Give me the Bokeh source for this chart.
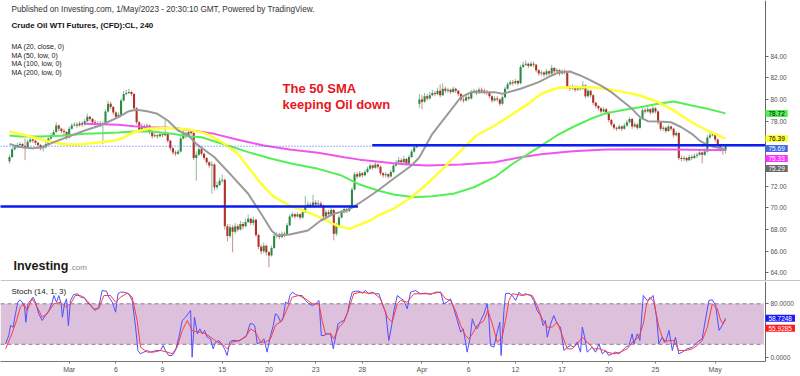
from bokeh.plotting import figure
from bokeh.models import Range1d, FixedTicker, Label, Span, BoxAnnotation, PrintfTickFormatter, LinearAxis
from bokeh.layouts import column
from bokeh.embed import file_html
from bokeh.resources import INLINE

FONT = "Liberation Sans"

# ---------------- data (4h bars, index 0 = first visible bar) ----------------
opens = [
    74.3, 74.7, 75.4, 75.6, 75.8, 75.9, 75.7, 75.6, 76.1, 76.3,
    76.2, 76.0, 75.8, 75.5, 75.6, 75.9, 76.4, 76.7, 77.0, 77.6,
    77.3, 77.1, 77.0, 76.5, 77.3, 77.6, 77.7, 77.6, 77.8, 77.7,
    78.0, 78.4, 78.2, 77.9, 77.8, 77.8, 77.7, 77.8, 78.9, 79.6,
    79.3, 78.8, 78.4, 78.6, 79.9, 80.5, 80.6, 80.7, 80.5, 79.2,
    77.9, 77.2, 77.5, 77.4, 77.6, 77.0, 76.6, 76.7, 76.6, 76.8,
    76.7, 76.9, 76.2, 75.5, 75.1, 75.0, 75.2, 76.4, 76.9, 76.6,
    77.0, 76.9, 74.6, 74.9, 75.4, 75.0, 74.6, 74.2, 73.9, 74.0,
    71.9, 72.1, 72.5, 72.6, 68.3, 67.4, 68.2, 67.8, 68.3, 68.0,
    68.5, 68.3, 68.7, 69.0, 68.6, 68.9, 67.5, 66.4, 66.0, 66.5,
    65.9, 65.6, 66.3, 67.4, 67.5, 67.3, 67.6, 67.5, 68.4, 69.2,
    69.4, 69.2, 69.4, 69.1, 69.6, 70.1, 70.3, 70.2, 70.5, 70.3,
    70.4, 70.2, 69.2, 69.6, 69.4, 69.8, 67.6, 68.4, 69.1, 69.6,
    69.9, 69.7, 70.0, 71.7, 73.1, 72.9, 73.2, 73.0, 73.3, 73.6,
    73.9, 73.7, 74.0, 73.8, 73.2, 73.0, 73.1, 72.9, 73.3, 73.9,
    74.2, 74.4, 74.2, 74.5, 74.1, 74.7, 75.2, 75.6, 79.6, 80.0,
    79.8, 80.3, 80.1, 80.4, 80.6, 80.5, 80.8, 80.4, 81.0, 80.8,
    80.9, 80.7, 81.0, 80.8, 80.5, 80.0, 79.9, 80.2, 80.1, 80.7,
    80.8, 80.6, 80.9, 80.8, 80.7, 80.6, 80.3, 79.9, 80.1, 80.0,
    79.6, 80.2, 81.0, 81.4, 81.6, 81.5, 81.7, 81.5, 83.0, 83.2,
    83.3, 83.1, 83.3, 83.2, 82.7, 82.4, 82.5, 82.3, 82.6, 82.4,
    82.9, 82.6, 82.7, 82.4, 82.6, 82.5, 81.2, 81.0, 81.2, 80.9,
    81.1, 81.0, 81.3, 80.3, 80.8, 80.4, 79.7, 79.4, 79.2, 78.9,
    79.1, 78.8, 78.1, 77.7, 77.4, 77.3, 77.5, 77.3, 77.6, 77.9,
    78.2, 77.5, 77.7, 77.4, 78.2, 79.0, 78.9, 79.1, 78.8, 79.2,
    78.9, 77.9, 77.3, 77.4, 77.1, 77.5, 77.3, 76.7, 76.9, 74.6,
    74.5, 74.6, 74.4, 74.7, 74.6, 74.8, 74.9, 75.1, 74.9, 75.2,
    76.5, 76.7, 76.8, 76.3, 75.8, 75.4, 75.3,
]
highs = [
    74.9, 75.6, 75.8, 76.0, 76.1, 76.0, 76.4, 76.3, 76.6, 76.5,
    76.3, 76.1, 75.9, 75.8, 76.1, 76.5, 76.9, 77.2, 77.9, 77.7,
    77.4, 77.3, 77.1, 77.5, 77.8, 77.9, 77.9, 78.0, 78.0, 78.2,
    78.7, 78.5, 78.3, 78.1, 78.0, 78.0, 78.0, 79.1, 79.9, 79.8,
    79.4, 78.9, 78.8, 80.1, 80.8, 80.9, 81.0, 80.8, 80.6, 79.3,
    78.0, 77.8, 77.7, 77.8, 77.7, 77.1, 76.9, 76.8, 77.0, 77.0,
    78.1, 77.0, 76.3, 75.6, 75.3, 75.4, 76.6, 77.2, 77.0, 77.3,
    77.2, 77.0, 75.2, 75.6, 75.5, 75.1, 74.7, 74.3, 74.3, 74.1,
    72.4, 72.8, 73.1, 72.7, 68.5, 68.5, 68.4, 68.6, 68.5, 68.8,
    68.7, 69.0, 69.4, 69.1, 69.2, 69.0, 67.6, 66.6, 66.8, 66.6,
    66.0, 66.5, 67.6, 67.8, 67.7, 67.8, 67.8, 68.6, 69.4, 69.6,
    69.5, 69.6, 69.5, 69.8, 71.1, 70.6, 70.5, 71.2, 70.7, 70.7,
    70.6, 70.3, 69.8, 69.8, 70.0, 69.9, 68.6, 69.3, 69.8, 70.1,
    70.0, 70.3, 71.9, 73.3, 73.3, 73.4, 73.3, 73.5, 73.8, 74.1,
    74.0, 74.3, 74.1, 73.9, 73.3, 73.3, 73.2, 73.5, 74.1, 74.4,
    74.7, 74.6, 74.8, 74.6, 74.9, 75.4, 75.8, 75.9, 80.5, 80.4,
    80.6, 80.5, 80.7, 80.9, 80.8, 81.1, 81.4, 81.5, 81.2, 81.1,
    81.0, 81.2, 81.1, 80.9, 80.6, 80.2, 80.4, 80.4, 80.9, 81.0,
    80.9, 81.1, 81.1, 81.0, 80.9, 80.7, 80.4, 80.3, 80.3, 80.1,
    80.4, 81.2, 81.6, 81.8, 81.8, 81.9, 81.8, 83.2, 83.5, 83.6,
    83.4, 83.5, 83.5, 83.3, 82.8, 82.7, 82.6, 82.8, 82.7, 83.2,
    83.0, 82.9, 82.8, 82.8, 82.8, 82.6, 81.3, 81.4, 81.3, 81.3,
    81.2, 81.7, 81.4, 81.0, 80.9, 80.5, 79.8, 79.5, 79.3, 79.3,
    79.2, 78.9, 78.2, 77.8, 77.5, 77.7, 77.6, 77.8, 78.1, 78.4,
    78.3, 77.9, 77.8, 78.4, 79.2, 79.2, 79.3, 79.2, 79.4, 79.3,
    79.0, 78.0, 77.6, 77.5, 77.7, 77.6, 77.4, 77.1, 77.0, 74.8,
    74.8, 74.7, 74.9, 74.9, 75.0, 75.1, 75.4, 75.2, 75.5, 76.7,
    76.9, 77.0, 76.9, 76.4, 75.9, 75.6, 75.9,
]
lows = [
    74.1, 74.6, 75.3, 75.5, 75.7, 75.5, 74.4, 75.5, 76.0, 76.0,
    75.8, 75.6, 75.3, 75.2, 75.5, 75.8, 76.3, 76.6, 76.9, 77.1,
    76.9, 76.7, 76.3, 76.4, 77.2, 77.5, 77.4, 77.5, 77.5, 77.6,
    77.9, 78.0, 77.7, 77.6, 77.6, 77.5, 75.9, 77.7, 78.8, 79.1,
    78.6, 78.2, 78.3, 78.5, 79.8, 80.4, 80.5, 80.3, 79.0, 77.7,
    77.0, 77.1, 77.2, 77.3, 76.8, 76.4, 76.5, 76.4, 76.5, 76.5,
    76.6, 76.0, 75.3, 74.9, 74.8, 74.9, 75.1, 76.3, 76.4, 76.5,
    76.7, 74.4, 72.5, 74.8, 74.8, 74.4, 74.0, 73.7, 71.3, 71.6,
    71.7, 72.0, 72.3, 68.0, 66.9, 67.2, 65.9, 67.6, 67.8, 67.9,
    68.0, 68.2, 68.6, 68.4, 68.4, 67.3, 66.2, 65.7, 65.8, 65.6,
    64.5, 65.5, 66.2, 67.2, 67.1, 67.2, 67.3, 67.4, 68.3, 69.1,
    69.0, 69.1, 68.9, 69.0, 69.5, 70.0, 70.0, 70.1, 70.1, 70.2,
    70.0, 69.0, 69.1, 69.2, 69.3, 67.0, 67.4, 68.3, 69.0, 69.5,
    69.5, 69.6, 69.9, 71.6, 72.7, 72.8, 72.8, 72.9, 73.2, 73.5,
    73.5, 73.6, 73.6, 73.0, 72.8, 72.8, 72.7, 72.8, 73.2, 73.8,
    74.1, 74.0, 74.1, 73.9, 74.0, 74.6, 75.1, 75.5, 79.2, 79.1,
    79.7, 79.9, 80.0, 80.3, 80.3, 80.4, 80.2, 80.3, 80.6, 80.6,
    80.5, 80.6, 80.6, 80.3, 79.8, 79.7, 79.8, 79.9, 80.0, 80.6,
    80.4, 80.5, 80.6, 80.5, 80.4, 80.1, 79.7, 79.8, 79.8, 79.4,
    79.5, 80.1, 80.9, 81.3, 81.3, 81.4, 81.3, 81.4, 82.9, 83.1,
    82.9, 83.0, 83.0, 82.5, 82.2, 82.2, 82.1, 82.2, 82.2, 82.3,
    82.4, 82.5, 82.2, 82.3, 82.3, 81.0, 80.8, 80.9, 80.7, 80.8,
    80.8, 80.9, 80.1, 80.2, 80.2, 79.5, 79.2, 79.0, 78.7, 78.8,
    78.6, 77.9, 77.5, 77.2, 77.1, 77.2, 77.1, 77.2, 77.5, 77.8,
    77.3, 77.4, 77.2, 77.3, 78.1, 78.7, 78.8, 78.6, 78.7, 78.7,
    77.7, 77.1, 77.1, 76.9, 77.0, 77.1, 76.5, 76.6, 74.4, 74.3,
    74.3, 74.2, 74.3, 74.4, 74.5, 74.6, 74.8, 74.1, 74.8, 75.1,
    76.4, 76.6, 76.1, 75.6, 75.2, 74.9, 75.0,
]
closes = [
    74.7, 75.4, 75.6, 75.8, 75.9, 75.7, 75.6, 76.1, 76.3, 76.2,
    76.0, 75.8, 75.5, 75.6, 75.9, 76.4, 76.7, 77.0, 77.6, 77.3,
    77.1, 77.0, 76.5, 77.3, 77.6, 77.7, 77.6, 77.8, 77.7, 78.0,
    78.4, 78.2, 77.9, 77.8, 77.8, 77.7, 77.8, 78.9, 79.6, 79.3,
    78.8, 78.4, 78.6, 79.9, 80.5, 80.6, 80.7, 80.5, 79.2, 77.9,
    77.2, 77.5, 77.4, 77.6, 77.0, 76.6, 76.7, 76.6, 76.8, 76.7,
    76.9, 76.2, 75.5, 75.1, 75.0, 75.2, 76.4, 76.9, 76.6, 77.0,
    76.9, 74.6, 74.9, 75.4, 75.0, 74.6, 74.2, 73.9, 74.0, 71.9,
    72.1, 72.5, 72.6, 68.3, 67.4, 68.2, 67.8, 68.3, 68.0, 68.5,
    68.3, 68.7, 69.0, 68.6, 68.9, 67.5, 66.4, 66.0, 66.5, 65.9,
    65.6, 66.3, 67.4, 67.5, 67.3, 67.6, 67.5, 68.4, 69.2, 69.4,
    69.2, 69.4, 69.1, 69.6, 70.1, 70.3, 70.2, 70.5, 70.3, 70.4,
    70.2, 69.2, 69.6, 69.4, 69.8, 67.6, 68.4, 69.1, 69.6, 69.9,
    69.7, 70.0, 71.7, 73.1, 72.9, 73.2, 73.0, 73.3, 73.6, 73.9,
    73.7, 74.0, 73.8, 73.2, 73.0, 73.1, 72.9, 73.3, 73.9, 74.2,
    74.4, 74.2, 74.5, 74.1, 74.7, 75.2, 75.6, 75.7, 80.0, 79.8,
    80.3, 80.1, 80.4, 80.6, 80.5, 80.8, 80.4, 81.0, 80.8, 80.9,
    80.7, 81.0, 80.8, 80.5, 80.0, 79.9, 80.2, 80.1, 80.7, 80.8,
    80.6, 80.9, 80.8, 80.7, 80.6, 80.3, 79.9, 80.1, 80.0, 79.6,
    80.2, 81.0, 81.4, 81.6, 81.5, 81.7, 81.5, 83.0, 83.2, 83.3,
    83.1, 83.3, 83.2, 82.7, 82.4, 82.5, 82.3, 82.6, 82.4, 82.9,
    82.6, 82.7, 82.4, 82.6, 82.5, 81.2, 81.0, 81.2, 80.9, 81.1,
    81.0, 81.3, 80.3, 80.8, 80.4, 79.7, 79.4, 79.2, 78.9, 79.1,
    78.8, 78.1, 77.7, 77.4, 77.3, 77.5, 77.3, 77.6, 77.9, 78.2,
    77.5, 77.7, 77.4, 78.2, 79.0, 78.9, 79.1, 78.8, 79.2, 78.9,
    77.9, 77.3, 77.4, 77.1, 77.5, 77.3, 76.7, 76.9, 74.6, 74.5,
    74.6, 74.4, 74.7, 74.6, 74.8, 74.9, 75.1, 74.9, 75.2, 76.5,
    76.7, 76.8, 76.3, 75.8, 75.4, 75.3, 75.69,
]

# moving averages (bar index, value)
ma20 = [(0, 75.9), (3, 75.66), (6, 75.54), (9, 75.5), (13, 75.6), (17, 76.06), (22, 76.5), (29, 77.14),
        (35, 77.6), (42, 78.37), (46, 78.92), (49, 79.05), (53, 78.92), (57, 78.68), (61, 78.06), (65, 77.14),
        (69, 76.68), (72, 75.9), (79, 74.67), (85, 73.14), (92, 71.3), (97, 69.45), (101, 67.91), (103, 67.45),
        (108, 67.54), (115, 67.91), (120, 68.83), (125, 69.45), (130, 69.75), (135, 70.45), (142, 71.6),
        (148, 72.68), (155, 73.91), (158, 74.67), (163, 76.83), (169, 78.68), (174, 80.21), (178, 80.68),
        (187, 80.68), (190, 80.53), (197, 80.99), (204, 81.6), (209, 82.22), (212, 82.53), (216, 82.59),
        (220, 82.22), (224, 81.76), (228, 81.29), (232, 80.68), (236, 79.91), (240, 79.14), (243, 78.37),
        (246, 78.0), (250, 77.97), (255, 77.9), (259, 77.44), (263, 76.83), (266, 76.21), (269, 75.82),
        (271, 75.66), (275, 75.45), (276, 75.29)]
ma50 = [(0, 77.05), (4, 76.83), (9, 76.52), (16, 76.06), (22, 75.85), (27, 75.85), (35, 76.06), (39, 76.15),
        (43, 76.37), (48, 76.98), (53, 77.29), (58, 77.35), (63, 77.35), (70, 77.2), (76, 76.83), (82, 76.06),
        (88, 74.99), (93, 73.45), (97, 72.22), (102, 70.98), (108, 70.21), (115, 69.6), (121, 68.99),
        (126, 68.37), (131, 68.06), (135, 68.45), (139, 68.83), (142, 69.29), (148, 69.91), (155, 70.98),
        (161, 72.22), (167, 73.6), (174, 75.29), (180, 76.68), (187, 77.6), (193, 78.52), (200, 79.6),
        (205, 80.53), (209, 80.9), (212, 81.08), (217, 81.14), (224, 81.14), (230, 80.99), (237, 80.68),
        (243, 80.37), (250, 79.76), (256, 78.99), (263, 77.9), (269, 77.14), (276, 76.39)]
ma100 = [(0, 76.68), (4, 76.58), (12, 76.58), (20, 76.65), (29, 76.83), (35, 76.89), (42, 76.95), (48, 77.05),
         (54, 77.08), (61, 76.89), (70, 76.58), (74, 76.52), (82, 75.91), (92, 75.14), (101, 74.53),
         (109, 74.07), (119, 73.6), (128, 72.98), (135, 72.15), (142, 71.6), (148, 71.23), (156, 70.98),
         (163, 71.07), (171, 71.29), (179, 71.9), (187, 72.83), (193, 73.91), (200, 74.99), (205, 75.75),
         (211, 76.68), (217, 77.44), (224, 78.22), (230, 78.74), (237, 79.05), (243, 79.29), (250, 79.6),
         (256, 79.82), (263, 79.45), (269, 79.14), (276, 78.72)]
ma200 = [(29, 77.76), (35, 77.72), (42, 77.66), (48, 77.54), (54, 77.44), (61, 77.39), (66, 77.29), (70, 77.14),
         (79, 76.83), (88, 76.28), (98, 75.75), (108, 75.38), (119, 75.08), (129, 74.67), (135, 74.45),
         (148, 74.12), (155, 73.97), (161, 73.91), (174, 74.0), (187, 74.21), (197, 74.67), (205, 74.95),
         (217, 75.23), (230, 75.38), (243, 75.41), (256, 75.38), (269, 75.35), (276, 75.33)]

# horizontal support / resistance lines
hl_y = [70.12, 75.78]
hl_x0 = [-4.0, 139.8]
hl_x1 = [134.3, 291.4]

# stochastic (14, 1, 3): (bar index, value)
stoch_k = [
    (-1.5, 20.7), (-0.3, 33.0), (0.4, 47.8), (1.4, 45.4), (2.3, 65.1), (3.2, 82.4), (4.0, 85.9), (4.9, 82.4),
    (5.8, 75.0), (6.3, 52.8), (7.1, 80.0), (8.1, 84.9), (9.1, 89.8), (10.0, 82.4), (11.3, 65.1), (12.6, 55.3),
    (13.9, 62.7), (15.2, 70.1), (16.5, 82.4), (17.1, 92.3), (18.1, 82.4), (19.0, 92.3), (19.9, 80.0),
    (20.4, 60.2), (21.2, 80.0), (22.0, 87.4), (22.7, 47.8), (23.5, 84.9), (24.8, 93.8), (26.3, 94.8),
    (27.4, 89.8), (28.7, 89.8), (29.9, 82.4), (31.2, 77.5), (32.9, 70.1), (34.4, 75.0), (35.7, 99.7),
    (37.4, 98.7), (38.3, 89.8), (39.6, 82.4), (40.9, 67.6), (41.8, 94.8), (42.8, 97.2), (44.1, 97.2),
    (46.0, 94.8), (47.3, 84.9), (48.6, 45.4), (49.5, 10.8), (50.5, 5.9), (51.8, 8.4), (53.1, 10.8),
    (54.4, 8.4), (55.6, 9.8), (56.9, 10.8), (58.2, 10.8), (59.2, 18.2), (60.1, 10.8), (61.4, 3.4),
    (62.7, 3.4), (64.0, 10.8), (65.3, 30.6), (66.6, 55.3), (67.9, 60.2), (68.8, 65.1), (69.8, 70.1),
    (70.4, 0.9), (71.3, 60.2), (72.4, 35.5), (73.4, 42.9), (74.3, 35.5), (75.2, 40.5), (76.2, 30.6),
    (77.5, 28.1), (78.5, 13.3), (79.4, 23.2), (80.7, 25.6), (81.6, 20.7), (82.9, 13.3), (83.9, 3.4),
    (84.9, 23.2), (85.8, 25.6), (87.1, 25.6), (88.4, 24.6), (89.7, 28.1), (91.4, 33.0), (92.7, 50.3),
    (93.6, 50.3), (94.5, 47.8), (95.5, 20.7), (96.8, 23.2), (98.1, 28.1), (99.3, 8.4), (100.6, 33.0),
    (101.7, 47.8), (102.5, 65.1), (103.4, 62.7), (104.5, 52.8), (105.5, 60.2), (106.4, 82.4), (107.3, 80.0),
    (108.1, 92.3), (109.0, 97.2), (110.3, 93.8), (111.5, 92.3), (112.8, 92.3), (114.1, 84.9), (115.4, 80.0),
    (116.7, 77.5), (118.0, 80.0), (119.3, 84.9), (120.2, 33.0), (121.2, 33.0), (122.5, 35.5), (123.8, 35.5),
    (124.8, 13.3), (125.7, 30.6), (126.6, 50.3), (127.6, 52.8), (128.9, 55.3), (130.2, 65.1), (131.2, 84.9),
    (132.1, 97.2), (133.4, 98.7), (134.7, 98.7), (136.0, 95.8), (137.2, 99.7), (138.5, 94.8), (139.8, 97.2),
    (141.1, 94.8), (142.4, 94.8), (143.7, 80.0), (145.0, 67.6), (146.2, 25.6), (147.1, 42.9), (148.2, 70.1),
    (149.5, 92.3), (150.7, 88.5), (152.0, 84.9), (153.3, 72.6), (154.6, 97.2), (156.5, 99.7), (158.4, 94.8),
    (160.4, 95.8), (162.3, 93.8), (164.2, 97.2), (166.2, 97.2), (167.4, 80.0), (168.7, 82.4), (170.0, 87.4),
    (171.3, 72.6), (172.6, 55.3), (173.9, 38.0), (174.9, 42.9), (175.8, 23.2), (176.4, 8.4), (177.5, 28.1),
    (178.4, 57.7), (179.3, 47.8), (180.3, 42.9), (181.6, 55.3), (182.9, 65.1), (184.1, 80.0), (184.8, 57.7),
    (185.4, 18.2), (186.7, 15.7), (188.0, 38.0), (189.0, 52.8), (189.5, 3.4), (190.6, 70.1), (191.2, 94.8),
    (192.5, 95.8), (193.8, 92.3), (195.1, 84.9), (196.4, 97.2), (197.6, 92.3), (198.9, 94.8), (200.9, 92.3),
    (202.1, 84.9), (203.4, 70.1), (204.7, 62.7), (205.7, 47.8), (206.6, 55.3), (207.3, 30.6), (208.6, 50.3),
    (209.8, 62.7), (211.1, 50.3), (212.4, 45.4), (213.7, 10.8), (215.0, 15.7), (216.3, 18.2), (217.6, 15.7),
    (218.8, 23.2), (220.1, 8.4), (220.8, 45.4), (221.7, 30.6), (222.7, 8.4), (224.6, 15.7), (225.9, 8.4),
    (227.2, 20.7), (228.5, 5.9), (229.8, 10.8), (231.0, 3.4), (232.3, 5.9), (233.6, 8.4), (234.9, 5.9),
    (236.2, 10.8), (237.5, 15.7), (238.8, 18.2), (240.0, 35.5), (240.7, 20.7), (242.0, 35.5), (243.0, 25.6),
    (244.3, 92.3), (245.8, 84.9), (247.1, 87.4), (248.1, 92.3), (249.4, 60.2), (250.3, 20.7), (251.6, 30.6),
    (252.9, 23.2), (254.2, 40.5), (255.5, 10.8), (256.7, 30.6), (258.0, 5.9), (259.3, 8.4), (261.2, 13.3),
    (263.2, 15.7), (265.1, 23.2), (267.0, 28.1), (268.3, 57.7), (269.6, 84.9), (270.9, 85.9), (272.2, 77.5),
    (273.5, 40.5), (274.7, 47.8), (276.0, 58.7248),
]
stoch_d = [
    (-1.5, 13.3), (0.4, 30.6), (2.3, 50.3), (4.2, 75.0), (5.5, 80.0), (6.8, 70.1), (8.7, 87.4), (10.7, 75.0),
    (12.6, 60.2), (14.5, 65.1), (17.1, 80.0), (19.7, 82.4), (21.6, 75.0), (23.5, 80.0), (25.4, 92.3),
    (27.4, 92.3), (29.9, 84.9), (32.5, 72.6), (34.4, 72.6), (36.4, 92.3), (38.9, 92.3), (40.9, 82.4),
    (42.8, 89.8), (45.4, 95.8), (47.3, 89.8), (49.2, 55.3), (50.5, 15.7), (53.1, 8.4), (55.6, 8.4),
    (58.2, 10.8), (60.8, 8.4), (62.7, 5.9), (64.6, 15.7), (66.6, 40.5), (68.5, 55.3), (70.4, 40.5),
    (72.4, 38.0), (73.6, 38.0), (75.6, 35.5), (77.5, 30.6), (80.1, 23.2), (82.0, 20.7), (83.9, 13.3),
    (85.8, 23.2), (88.4, 25.6), (91.0, 30.6), (92.9, 42.9), (94.8, 38.0), (96.8, 23.2), (98.7, 23.2),
    (100.6, 28.1), (102.5, 47.8), (105.1, 55.3), (107.0, 72.6), (109.0, 89.8), (111.5, 92.3), (114.1, 87.4),
    (116.7, 80.0), (119.3, 80.0), (120.5, 55.3), (121.8, 35.5), (123.8, 35.5), (125.0, 28.1), (127.0, 45.4),
    (128.9, 52.8), (130.8, 72.6), (132.7, 94.8), (135.3, 97.2), (137.9, 95.8), (140.5, 95.8), (143.0, 87.4),
    (145.6, 60.2), (147.5, 52.8), (149.5, 80.0), (150.7, 84.9), (153.3, 82.4), (155.9, 94.8), (158.4, 94.8),
    (162.3, 94.8), (166.2, 97.2), (168.1, 87.4), (170.0, 84.9), (171.9, 70.1), (173.9, 47.8), (175.8, 33.0),
    (177.1, 28.1), (178.4, 35.5), (180.3, 47.8), (182.9, 55.3), (184.4, 70.1), (186.1, 50.3), (188.0, 23.2),
    (189.9, 30.6), (191.2, 55.3), (192.5, 84.9), (193.8, 94.8), (195.7, 93.8), (197.6, 92.3), (199.6, 93.8),
    (201.5, 92.3), (203.4, 77.5), (205.3, 57.7), (207.3, 45.4), (209.2, 45.4), (211.1, 52.8), (213.1, 33.0),
    (215.0, 13.3), (216.9, 13.3), (218.8, 20.7), (220.8, 30.6), (222.7, 23.2), (225.3, 13.3), (227.8, 13.3),
    (230.4, 8.4), (233.0, 5.9), (235.5, 8.4), (238.1, 13.3), (240.7, 25.6), (242.6, 30.6), (244.3, 50.3),
    (245.6, 80.0), (246.9, 89.8), (248.4, 82.4), (250.3, 45.4), (252.3, 23.2), (254.2, 25.6), (256.1, 25.6),
    (258.0, 10.8), (260.6, 10.8), (263.2, 13.3), (265.1, 18.2), (267.0, 25.6), (269.0, 45.4), (270.9, 80.0),
    (272.8, 72.6), (274.1, 56.0), (275.0, 50.5), (276.0, 55.9285),
]

price_ticks = [64, 66, 68, 70, 72, 78, 80, 82, 84]
stoch_ticks = [0, 80]
date_ticks = [23, 41, 59, 82, 100, 118, 136, 159, 177, 195, 213, 231, 249, 272]
date_labels = ["Mar", "6", "9", "15", "20", "23", "28", "Apr", "6", "12", "17", "20", "25", "May"]

# ---------------- styling / layout ----------------
C_UP, C_DN = "#2a8a42", "#b03027"
W_UP, W_DN = "#8fb89c", "#c98f88"
C_MA20, C_MA50, C_MA100, C_MA200 = "#9a9a9a", "#ffff33", "#55ee55", "#f055f0"
C_LINE = "#0b1cf2"
FW = 800          # frame spans the whole width; the price scale sits inside at AXIS_X
PH = 281
SH = 80
X0, AXIS_X, X1 = -3.47, 291.4, 304.9

bars = list(range(len(closes)))
up = [c >= o for o, c in zip(opens, closes)]
body_top = [max(o, c) for o, c in zip(opens, closes)]
body_bot = [min(o, c) for o, c in zip(opens, closes)]
body_col = [C_UP if u else C_DN for u in up]
wick_col = [W_UP if u else W_DN for u in up]

XR = Range1d(X0, X1)
YP = Range1d(63.20, 89.14)
YS = Range1d(-5.48, 113.04)

p = figure(frame_width=FW, frame_height=PH, x_range=XR, y_range=YP,
           output_backend="svg", toolbar_location=None, x_axis_location=None, y_axis_location=None,
           min_border_left=0, min_border_right=0, min_border_top=0, min_border_bottom=0,
           outline_line_color=None, background_fill_color="white", border_fill_color="white")
p.grid.visible = False


def right_axis(ticks, fmt):
    ax = LinearAxis(fixed_location=AXIS_X, ticker=FixedTicker(ticks=ticks),
                    formatter=PrintfTickFormatter(format=fmt))
    ax.major_label_text_font = FONT
    ax.major_label_text_font_size = "6.5px"
    ax.major_label_text_color = "#555555"
    ax.axis_line_color = "#666666"
    ax.major_tick_line_color = "#666666"
    ax.major_tick_out = 3
    ax.major_tick_in = 0
    ax.minor_tick_line_color = None
    ax.major_label_standoff = 2
    return ax


p.add_layout(right_axis(price_ticks, "%.2f"), "right")

# candles
p.segment(x0=bars, y0=lows, x1=bars, y1=highs, line_color=wick_col, line_width=1)
p.vbar(x=bars, width=0.8, top=body_top, bottom=body_bot, fill_color=body_col, line_color=None)

# moving averages
for pts, col, w in [(ma200, C_MA200, 2), (ma100, C_MA100, 2), (ma50, C_MA50, 2.5), (ma20, C_MA20, 2)]:
    p.line([a for a, b in pts], [b for a, b in pts], line_color=col, line_width=w)

# support / resistance and current price
p.segment(x0=hl_x0, y0=hl_y, x1=hl_x1, y1=hl_y, line_color=C_LINE, line_width=2.5)
p.segment(x0=[X0], y0=[closes[-1]], x1=[AXIS_X], y1=[closes[-1]], line_color="#3d5ef0",
          line_dash="1 2", line_width=1)
p.add_layout(Span(location=63.27, dimension="width", line_color="#c4c4c4", line_width=1.5))


def txt(fig, x, y, text, size="7px", color="#333333", style="normal", align="left"):
    fig.add_layout(Label(x=x, y=y, x_units="screen", y_units="screen", text=text,
                         text_font=FONT, text_font_size=size, text_color=color,
                         text_font_style=style, text_baseline="middle", text_align=align))


txt(p, 11, PH - 9, "Published on Investing.com, 1/May/2023 - 20:30:10 GMT, Powered by TradingView.", "8.2px")
txt(p, 11, PH - 25, "Crude Oil WTI Futures, (CFD):CL, 240", "8px", "#111111", "bold")
for k, t in enumerate(["MA (20, close, 0)", "MA (50, low, 0)", "MA (100, low, 0)", "MA (200, low, 0)"]):
    txt(p, 11, PH - 46 - 8.5 * k, t, "7px", "#222222")
txt(p, 282, PH - 88, "The 50 SMA", "13px", "#e8161d", "bold")
txt(p, 282, PH - 103.5, "keeping Oil down", "13px", "#e8161d", "bold")
txt(p, 13, 16, "Investing", "12.5px", "#1a1a1a", "bold")
txt(p, 69, 14, ".com", "8px", "#888888")

# price tags on the scale (stacked so they do not overlap)
ppx = (YP.end - YP.start) / PH
tags = [(ma100[-1][1], C_MA100, "#000000"), (ma50[-1][1], C_MA50, "#000000"),
        (closes[-1], "#4169e1", "#ffffff"), (ma200[-1][1], "#ff33ff", "#ffffff"),
        (ma20[-1][1], "#696969", "#ffffff")]
prev = None
for val, bg, fg in tags:
    pos = val if prev is None else min(val, prev - 10 * ppx)
    prev = pos
    p.add_layout(Label(x=AXIS_X, y=pos, x_units="data", y_units="data", text="%.2f" % val,
                       text_font=FONT, text_font_size="6.5px", text_color=fg, text_baseline="middle",
                       background_fill_color=bg, padding=(3, 1)))

# ---------------- stochastic panel ----------------
s = figure(frame_width=FW, frame_height=SH, x_range=XR, y_range=YS,
           output_backend="svg", toolbar_location=None, y_axis_location=None,
           min_border_left=0, min_border_right=0, min_border_top=0, min_border_bottom=15,
           outline_line_color=None, background_fill_color="white", border_fill_color="white")
s.grid.visible = False
s.add_layout(BoxAnnotation(left=X0, right=AXIS_X - 0.6, bottom=20, top=80, fill_color="#dcc0dc",
                           fill_alpha=1.0, line_color=None, level="underlay"))
s.segment(x0=[X0, X0], y0=[20, 80], x1=[AXIS_X - 0.6, AXIS_X - 0.6], y1=[20, 80],
          line_color="#8a7a8a", line_dash="4 3", line_width=1)
s.line([a for a, b in stoch_k], [b for a, b in stoch_k], line_color="#4f4fff", line_width=1)
s.line([a for a, b in stoch_d], [b for a, b in stoch_d], line_color="#ff3b3b", line_width=1)

s.add_layout(right_axis(stoch_ticks, "%.4f"), "right")

xax = s.xaxis[0]
xax.ticker = FixedTicker(ticks=date_ticks)
xax.major_label_overrides = {t: l for t, l in zip(date_ticks, date_labels)}
xax.bounds = (X0, AXIS_X)
xax.major_label_text_font = FONT
xax.major_label_text_font_size = "7px"
xax.major_label_text_color = "#555555"
xax.axis_line_color = "#777777"
xax.major_tick_line_color = "#777777"
xax.major_tick_out = 2
xax.major_tick_in = 0
xax.minor_tick_line_color = None
xax.major_label_standoff = 2

txt(s, 11, SH - 10, "Stoch (14, 1, 3)", "8px", "#222222")

spx = (YS.end - YS.start) / SH
prev = None
for val, bg in [(stoch_k[-1][1], "#1a1aff"), (stoch_d[-1][1], "#ff1a1a")]:
    pos = val if prev is None else min(val, prev - 10 * spx)
    prev = pos
    s.add_layout(Label(x=AXIS_X, y=pos, x_units="data", y_units="data", text="%.4f" % val,
                       text_font=FONT, text_font_size="6.5px", text_color="#ffffff", text_baseline="middle",
                       background_fill_color=bg, padding=(3, 1)))

layout = column(p, s)
open("out.html", "w").write(file_html(layout, INLINE))
